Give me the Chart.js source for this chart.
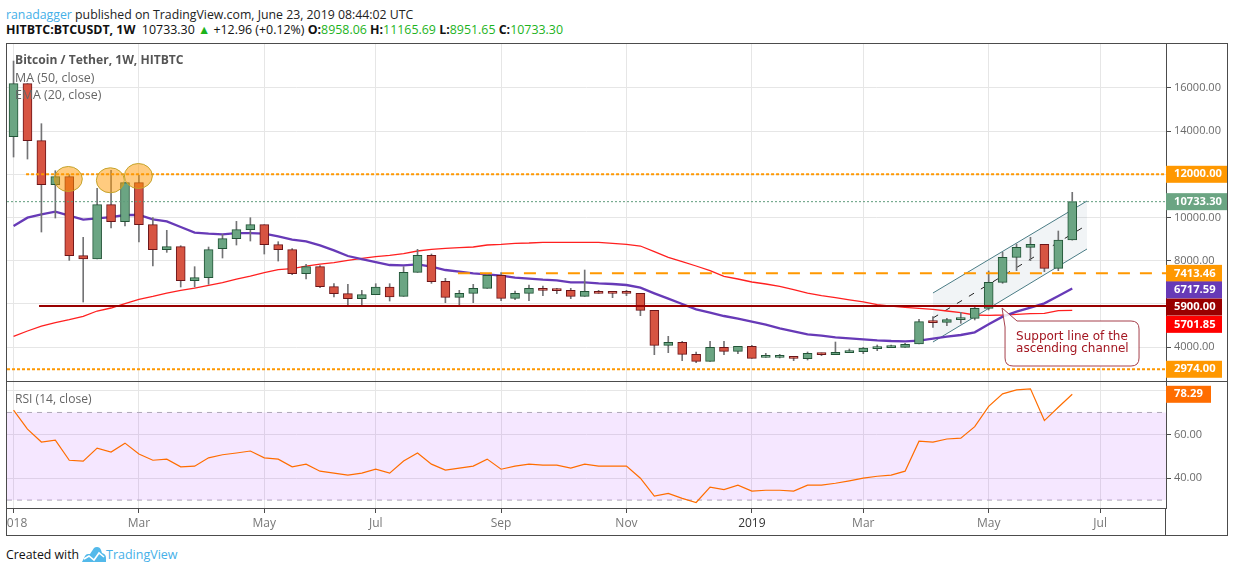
<!DOCTYPE html>
<html>
<head>
<meta charset="utf-8">
<title>BTCUSDT</title>
<script src="https://cdn.jsdelivr.net/npm/chart.js@4/dist/chart.umd.min.js"></script>
<style>
  html, body { margin: 0; padding: 0; background: #fff; width: 1234px; height: 572px; overflow: hidden; }
  body { position: relative; font-family: "Open Sans", sans-serif; }
  canvas { position: absolute; left: 7px; }
  .t { position: absolute; white-space: nowrap; line-height: 16px; }
  .line { position: absolute; background: #4c4c4c; }
  .g { color: #1db31d; }
  b { font-weight: 700; }
</style>
</head>
<body>
<div class="t" style="left:6px;top:7px;font-size:12.3px;color:#222"><span style="color:#45b0e8">ranadagger</span> published on TradingView.com, June 23, 2019 08:44:02 UTC</div>
<div class="t" style="left:6px;top:22px;font-size:12.4px;color:#111"><b>HITBTC:BTCUSDT, 1W</b>&nbsp; 10733.30 <span style="color:#1db31d">▲</span> +12.96 (+0.12%) <b>O:</b><span class="g">8958.06</span> <b>H:</b><span class="g">11165.69</span> <b>L:</b><span class="g">8951.65</span> <b>C:</b><span class="g">10733.30</span></div>

<canvas id="priceChart" width="1220" height="337" style="top:44px"></canvas>
<canvas id="rsiChart" width="1220" height="153" style="top:382px"></canvas>

<div class="line" style="left:6px;top:43px;width:1222px;height:1px"></div>
<div class="line" style="left:6px;top:381px;width:1222px;height:1px"></div>
<div class="line" style="left:6px;top:535px;width:1222px;height:1px"></div>
<div class="line" style="left:6px;top:43px;width:1px;height:493px"></div>
<div class="line" style="left:1227px;top:43px;width:1px;height:493px"></div>
<div class="line" style="left:1165px;top:508px;width:1px;height:27px"></div>

<div class="t" style="left:15px;top:52px;font-size:12.1px;font-weight:700;color:#555">Bitcoin / Tether, 1W, HITBTC</div>
<div class="t" style="left:15px;top:70px;font-size:12.4px;color:#666">MA (50, close)</div>
<div class="t" style="left:15px;top:87px;font-size:12.4px;color:#666">EMA (20, close)</div>
<div class="t" style="left:15px;top:391px;font-size:12.1px;color:#666">RSI (14, close)</div>

<div class="t" style="left:6px;top:547px;font-size:12.3px;color:#111">Created with</div>
<svg style="position:absolute;left:82px;top:546px" width="25" height="17" viewBox="0 0 25 17">
  <path d="M0 16 L3 10 Q4 8 6 8 L8 8 L12 2 Q13 1 15 1 Q18 1 19 4 L20 7 Q24 8 24 12 L24 16 Z" fill="#53b9ea"/>
  <path d="M2 13 L7 10 L12 14 L17 7 L22 11" stroke="#fff" stroke-width="1.6" fill="none"/>
</svg>
<div class="t" style="left:106px;top:547px;font-size:12.5px;color:#45b0e8">TradingView</div>

<script>
// weekly candles
const opens = [13741,16194,13556,11519,11889,8232,8078,10593,9806,11611,9667,8510,8649,7075,7214,8556,9019,9436,9667,8741,8510,7399,7723,6797,6473,6242,6427,6782,
  6350,7461,8248,7045,6304,6489,6721,7322,6258,6489,6721,6644,6628,6350,6582,6505,6505,6489,5702,4082,4221,3666,3342,3990,3805,4036,3527,3527,3573,3464,3680,3650,3742,3788,3927,3973,3990,4144,5178,5148,5271,5333,5795,7000,8156,8619,8758,7647,8958.06];
const closes = [16194,13556,11519,11889,8232,8078,10593,9806,11611,9667,8510,8649,7075,7214,8510,9019,9436,9667,8741,8510,7399,7723,6797,6473,6242,6427,6782,6319,
  7461,8248,7029,6304,6489,6721,7322,6258,6489,6721,6628,6613,6350,6582,6489,6489,6489,5702,4082,4221,3666,3342,3990,3805,4036,3480,3542,3589,3480,3711,3650,3757,3819,3958,4004,4004,4129,5178,5132,5271,5333,5795,7000,8156,8619,8758,7647,8958,10733.30];
const highs = [17243,16194,14343,12167,11982,9081,11349,12182,11611,11951,9991,9405,8695,7723,8633,9220,9821,9991,9667,8880,8556,7830,7770,6936,6905,6627,6936,6936,
  7724,8526,8310,7184,6628,6906,7415,7446,6597,6875,6829,6721,6721,7569,6628,6510,6628,6489,5702,4499,4267,3774,4267,4267,4036,4082,3712,3666,3573,3773,3726,4236,3912,3989,4097,4097,4175,5286,5410,5333,5610,5903,7524,8388,8773,9082,8758,9375,11165.69];
const lows = [12800,12707,9328,9976,8016,6087,8078,9513,9606,8865,7754,8387,6782,6782,6905,8124,8726,8911,8309,7985,7353,7152,6751,6319,5933,5933,6427,6134,
  6350,7461,6952,6057,5934,6057,6721,6150,6196,6150,6381,6474,6242,6350,6489,6289,6381,5455,3650,3743,3373,3280,3342,3650,3696,3480,3527,3496,3373,3402,3603,3650,3742,3696,3834,3973,3990,4144,4916,4993,5101,5256,5718,6953,7539,8002,7493,7539,8951.65];

const ema20 = [9606,9991,10146,10269,10084,9899,9960,10022,10115,10115,9914,9821,9559,9297,9250,9220,9281,9281,9250,9127,8973,8896,8711,8479,8217,8078,7939,7800,
  7780,7832,7724,7569,7492,7415,7369,7307,7214,7168,7122,7091,6999,6999,6952,6921,6875,6752,6489,6242,5996,5749,5594,5440,5317,5178,5039,4869,4729,4590,4529,4452,4405,4359,4313,4282,4267,4300,4391,4484,4561,4685,5055,5410,5641,5826,6027,6366,6717.59];
const ma50 = [4498,4745,4976,5131,5270,5424,5671,5810,6010,6211,6350,6504,6628,6735,6859,6982,7152,7291,7445,7584,7630,7754,7846,7908,8016,8109,8186,8248,
  8325,8449,8526,8572,8603,8634,8727,8757,8804,8819,8850,8850,8850,8850,8850,8804,8757,8680,8418,8156,7955,7755,7539,7276,7153,7014,6921,6813,6659,6500,6380,6290,6190,6090,5970,5900,5842,5790,5749,5672,5595,5487,5471,5487,5518,5549,5564,5688,5701.85];
const rsi14 = [71.1,62.4,56.5,57.4,48.2,47.8,53.7,51.9,56,51,48.2,48.7,45.2,45.5,49.3,50.7,51.5,52.4,49.3,48.7,45.2,46.4,43.2,42.3,41.4,42.3,44.1,42.3,47.8,51.5,46.4,43.7,44.6,45.5,48.7,44.1,45.5,46.4,46,46,44.6,46.4,45.5,45.5,
  45.5,40,31.8,33.1,30.8,28.9,35.9,34.8,36.8,34.1,34.5,34.5,34.1,36.8,36.8,37.7,38.8,40,40.9,41.4,43.2,56.9,56.5,57.9,58.3,63.5,72.8,78.5,80.3,80.8,66.3,72.4,78.29];

// axes
const xTickWeeks = [0,9,18,26,35,44,53,61,70,78];
const xTickNames = ["2018","Mar","May","Jul","Sep","Nov","2019","Mar","May","Jul"];
const priceTicks = [4000,6000,8000,10000,12000,14000,16000];
const rsiTicks = [40,60,80];

// drawn levels: [start week, price]
const level12000 = [[0.9,12000],[82.73,12000]];
const level10733 = [[-0.47,10733.30],[82.73,10733.30]];
const level7413 = [[31.9,7413.46],[82.73,7413.46]];
const level5900 = [[1.83,5900],[82.73,5900]];
const level2974 = [[-0.47,2974],[82.73,2974]];

// ascending channel
const channelTop = [[66,6505],[77.06,10764]];
const channelMid = [[66,5347],[77.06,9653]];
const channelLow = [[66,4236],[77.06,8542]];

// the three touches of 12000
const touchWeeks = [3.93,6.95,8.96];
const touchPrices = [11783,11722,11921];

// price axis flags
const flagValues = [12000,10733.30,7413.46,6717.59,5900,5701.85,2974];
const flagColors = ["#ff9800","#6ba583","#ff9800","#673ab7","#990000","#ff0000","#ff9800"];
const flagWidths = [62,62,56,56,56,56,56];
const flagNudge = [0,0,0,1.5,1,14,0];

const UP = "#6ba583", DOWN = "#d75442", UP_BORDER = "#225437", DOWN_BORDER = "#6b1519";
const isUp = opens.map((o, i) => closes[i] >= o);

function toPoints(arr) { return arr.map((v, i) => ({ x: i, y: v })); }
function toLine(pairs) { return pairs.map(p => ({ x: p[0], y: p[1] })); }
function level(pairs, color, width, dash, order) {
  return { type: "line", data: toLine(pairs), borderColor: color, borderWidth: width, borderDash: dash, pointRadius: 0, order: order };
}

const fitWeeks = {
  type: "linear", min: -0.47, max: 82.73, offset: false,
  afterBuildTicks(scale) { scale.ticks = xTickWeeks.map(v => ({ value: v })); },
  grid: { color: "#e6e6e6", drawTicks: false, offset: false },
  border: { display: false }
};

const pricePlugin = {
  id: "priceMarks",
  afterDatasetsDraw(chart) {
    const ctx = chart.ctx, x = chart.scales.x, y = chart.scales.y;
    ctx.save();
    // circles on the 12000 touches
    touchWeeks.forEach((w, i) => {
      ctx.beginPath();
      ctx.ellipse(x.getPixelForValue(w), y.getPixelForValue(touchPrices[i]), 14, 12.5, 0, 0, Math.PI * 2);
      ctx.fillStyle = "rgba(255,152,0,0.5)";
      ctx.fill();
      ctx.strokeStyle = "#c4a32a";
      ctx.lineWidth = 1;
      ctx.stroke();
    });
    // callout pointing at the channel support
    const tx = x.getPixelForValue(70.96), ty = y.getPixelForValue(5810);
    const l = tx + 3, t = ty + 13, r = l + 134, b = t + 45, c = 8;
    ctx.beginPath();
    ctx.moveTo(tx, ty);
    ctx.lineTo(l + 12, t);
    ctx.lineTo(r - c, t);
    ctx.quadraticCurveTo(r, t, r, t + c);
    ctx.lineTo(r, b - c);
    ctx.quadraticCurveTo(r, b, r - c, b);
    ctx.lineTo(l + c, b);
    ctx.quadraticCurveTo(l, b, l, b - c);
    ctx.lineTo(l, t + 6);
    ctx.closePath();
    ctx.fillStyle = "rgba(255,255,255,0.85)";
    ctx.fill();
    ctx.strokeStyle = "#a5404c";
    ctx.lineWidth = 1;
    ctx.stroke();
    ctx.fillStyle = "#a31621";
    ctx.font = '12px "DejaVu Sans"';
    ctx.textAlign = "left";
    ctx.textBaseline = "middle";
    ctx.fillText("Support line of the", l + 11, t + 16);
    ctx.fillText("ascending channel", l + 11, t + 28);
    ctx.restore();
  },
  afterDraw(chart) {
    const ctx = chart.ctx, y = chart.scales.y, left = chart.chartArea.right;
    ctx.save();
    ctx.font = 'bold 11.2px "Open Sans"';
    ctx.textAlign = "left";
    ctx.textBaseline = "middle";
    flagValues.forEach((v, i) => {
      const py = y.getPixelForValue(v) + flagNudge[i];
      ctx.fillStyle = flagColors[i];
      ctx.fillRect(left, py - 8.5, flagWidths[i], 17);
      ctx.fillStyle = "#fff";
      ctx.fillText(v.toFixed(2), left + 8, py);
    });
    ctx.restore();
  }
};

const rsiPlugin = {
  id: "rsiFlag",
  afterDraw(chart) {
    const ctx = chart.ctx, y = chart.scales.y, left = chart.chartArea.right;
    const last = rsi14[rsi14.length - 1], py = y.getPixelForValue(last);
    ctx.save();
    ctx.fillStyle = "#ff6d00";
    ctx.fillRect(left, py - 8.5, 45, 17);
    ctx.fillStyle = "#fff";
    ctx.font = 'bold 11.2px "Open Sans"';
    ctx.textAlign = "left";
    ctx.textBaseline = "middle";
    ctx.fillText(last.toFixed(2), left + 8, py);
    ctx.restore();
  }
};

new Chart(document.getElementById("priceChart"), {
  type: "bar",
  data: {
    datasets: [
      level(level12000, "#ff9800", 2, [3, 2], 0),
      level(level7413, "#ff9800", 2, [12, 10], 0),
      level(level2974, "#ff9800", 2, [3, 2], 0),
      level(level5900, "#990000", 2, [], 0),
      level(level10733, "#5f9c7c", 1, [2, 2], 0),
      {
        type: "bar", grouped: false, barThickness: 9, borderWidth: 1, borderSkipped: false, minBarLength: 2, order: 1,
        data: opens.map((o, i) => ({ x: i, y: [o, closes[i]] })),
        backgroundColor: isUp.map(u => u ? UP : DOWN),
        borderColor: isUp.map(u => u ? UP_BORDER : DOWN_BORDER)
      },
      {
        type: "bar", grouped: false, barThickness: 1, order: 2,
        data: lows.map((l, i) => ({ x: i, y: [l, highs[i]] })),
        backgroundColor: "#737375"
      },
      { type: "line", data: toPoints(ema20), borderColor: "#673ab7", borderWidth: 2.3, pointRadius: 0, order: 3 },
      { type: "line", data: toPoints(ma50), borderColor: "#ff2020", borderWidth: 1.3, pointRadius: 0, order: 3 },
      level(channelMid, "#222", 1, [6, 8], 4),
      level(channelTop, "#4a7c85", 1, [], 5),
      Object.assign(level(channelLow, "#4a7c85", 1, [], 5), { fill: "-1", backgroundColor: "rgba(120,144,170,0.1)" })
    ]
  },
  options: {
    responsive: false,
    animation: false,
    layout: { padding: 0 },
    plugins: { legend: { display: false }, tooltip: { enabled: false } },
    scales: {
      x: Object.assign({}, fitWeeks, {
        ticks: { display: false },
        afterFit(scale) { scale.height = 0; scale.paddingLeft = 0; scale.paddingRight = 0; }
      }),
      y: {
        position: "right", min: 2431, max: 18032,
        afterBuildTicks(scale) { scale.ticks = priceTicks.map(v => ({ value: v })); },
        afterFit(scale) { scale.width = 61; scale.paddingTop = 0; scale.paddingBottom = 0; },
        ticks: { color: "#6a6a6a", padding: 3, font: { family: "Open Sans", size: 11 }, callback: v => v.toFixed(2) },
        grid: { color: "#e6e6e6", tickLength: 5, tickColor: "#4c4c4c" },
        border: { color: "#4c4c4c" }
      }
    }
  },
  plugins: [pricePlugin]
});

new Chart(document.getElementById("rsiChart"), {
  type: "line",
  data: {
    datasets: [
      { data: toPoints(rsi14), borderColor: "#ff6d00", borderWidth: 1.2, pointRadius: 0, order: 0 },
      { data: [{ x: -0.47, y: 70 }, { x: 82.73, y: 70 }], borderColor: "#b0a8b8", borderWidth: 1, borderDash: [5, 5], pointRadius: 0, order: 1, fill: "+1", backgroundColor: "rgba(153,21,255,0.1)" },
      { data: [{ x: -0.47, y: 30 }, { x: 82.73, y: 30 }], borderColor: "#b0a8b8", borderWidth: 1, borderDash: [5, 5], pointRadius: 0, order: 1 }
    ]
  },
  options: {
    responsive: false,
    animation: false,
    layout: { padding: 0 },
    plugins: { legend: { display: false }, tooltip: { enabled: false } },
    scales: {
      x: Object.assign({}, fitWeeks, {
        grid: { color: "#e6e6e6", tickLength: 5, tickColor: "#4c4c4c" },
        border: { color: "#4c4c4c" },
        afterFit(scale) { scale.height = 27; scale.paddingLeft = 0; scale.paddingRight = 0; },
        ticks: {
          autoSkip: false, maxRotation: 0, padding: 3,
          font: { family: "Open Sans", size: 12 },
          color: c => (xTickNames[c.index] === "2019" ? "#333" : "#777"),
          callback: (v, i) => xTickNames[i]
        }
      }),
      y: {
        position: "right", min: 26.4, max: 83.9,
        afterBuildTicks(scale) { scale.ticks = rsiTicks.map(v => ({ value: v })); },
        afterFit(scale) { scale.width = 61; scale.paddingTop = 0; scale.paddingBottom = 0; },
        ticks: { color: "#6a6a6a", padding: 3, font: { family: "Open Sans", size: 11 }, callback: v => (v === 80 ? "" : v.toFixed(2)) },
        grid: { color: "#e6e6e6", tickLength: 5, tickColor: "#4c4c4c" },
        border: { color: "#4c4c4c" }
      }
    }
  },
  plugins: [rsiPlugin]
});
</script>
</body>
</html>
